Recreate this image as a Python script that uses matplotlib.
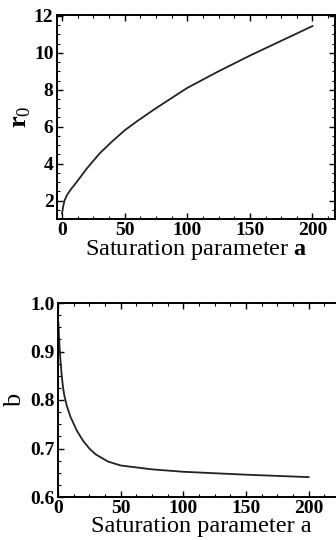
import matplotlib
matplotlib.use("Agg")
import matplotlib.pyplot as plt
from matplotlib.ticker import MultipleLocator

plt.rcParams['font.family'] = ['Liberation Serif', 'DejaVu Serif']
plt.rcParams['mathtext.fontset'] = 'custom'
plt.rcParams['mathtext.rm'] = 'Liberation Serif'
plt.rcParams['mathtext.bf'] = 'Liberation Serif:bold'

# top panel: r0 vs a
a_r0 = [0, 1, 2, 4, 7, 10, 15, 20, 30, 40, 50, 60, 75, 100, 125, 150, 175, 200]
r0 = [1.3, 1.7, 2.0, 2.3, 2.6, 2.85, 3.3, 3.75, 4.55, 5.2, 5.8, 6.3, 7.0, 8.1, 9.0, 9.85, 10.65, 11.45]

# bottom panel: b vs a
a_b = [0.3, 1, 2, 3, 4, 5, 7, 10, 15, 20, 25, 30, 40, 50, 75, 100, 150, 200]
b = [0.96, 0.92, 0.88, 0.85, 0.826, 0.81, 0.788, 0.765, 0.737, 0.716, 0.700, 0.688, 0.673, 0.665, 0.657, 0.652, 0.646, 0.641]

xticks = [0, 50, 100, 150, 200]
yticks_top = [2, 4, 6, 8, 10, 12]
yticks_bot = [0.6, 0.7, 0.8, 0.9, 1.0]

W, H = 336, 540
fig = plt.figure(figsize=(W / 100, H / 100), dpi=100)

def box(l, t, r, bt):
    return [l / W, 1 - bt / H, (r - l) / W, (bt - t) / H]

ax1 = fig.add_axes(box(57, 15, 335, 219))
ax2 = fig.add_axes(box(58, 303, 345, 497))

tickfont = dict(fontsize=14, fontweight='bold')

for ax in (ax1, ax2):
    for s in ax.spines.values():
        s.set_linewidth(1.4)
    ax.tick_params(which='both', direction='in', top=True, right=True)
    ax.tick_params(which='major', length=4, width=1.0, pad=2.5)
    ax.tick_params(which='minor', length=2, width=0.8)
    ax.set_xticks(xticks)
    ax.set_xticklabels([str(v) for v in xticks], **tickfont)

ax1.plot(a_r0, r0, color='#222222', lw=1.3)
ax1.set_xlim(-4, 218)
ax1.set_ylim(1.0, 12.05)
ax1.set_yticks(yticks_top)
ax1.set_yticklabels([str(v) for v in yticks_top], **tickfont)
ax1.xaxis.set_minor_locator(MultipleLocator(12.5))
ax1.yaxis.set_minor_locator(MultipleLocator(0.5))
ax1.set_xlabel(r'Saturation parameter $\mathbf{a}$', fontsize=17.5, labelpad=-1)
ax1.set_ylabel(r'$\mathbf{r}_0$', fontsize=19, labelpad=1)

ax2.plot(a_b, b, color='#222222', lw=1.3)
ax2.set_xlim(0, 229)
ax2.set_ylim(0.6, 1.0)
ax2.set_yticks(yticks_bot)
ax2.set_yticklabels(['%.1f' % v for v in yticks_bot], **tickfont)
ax2.tick_params(which='both', right=False)
ax2.xaxis.set_minor_locator(MultipleLocator(12.5))
ax2.yaxis.set_minor_locator(MultipleLocator(0.025))
ax2.set_xlabel('Saturation parameter a', fontsize=17.5, labelpad=-1)
ax2.set_ylabel('b', fontsize=19, labelpad=3)

fig.savefig('out.png', dpi=100)
